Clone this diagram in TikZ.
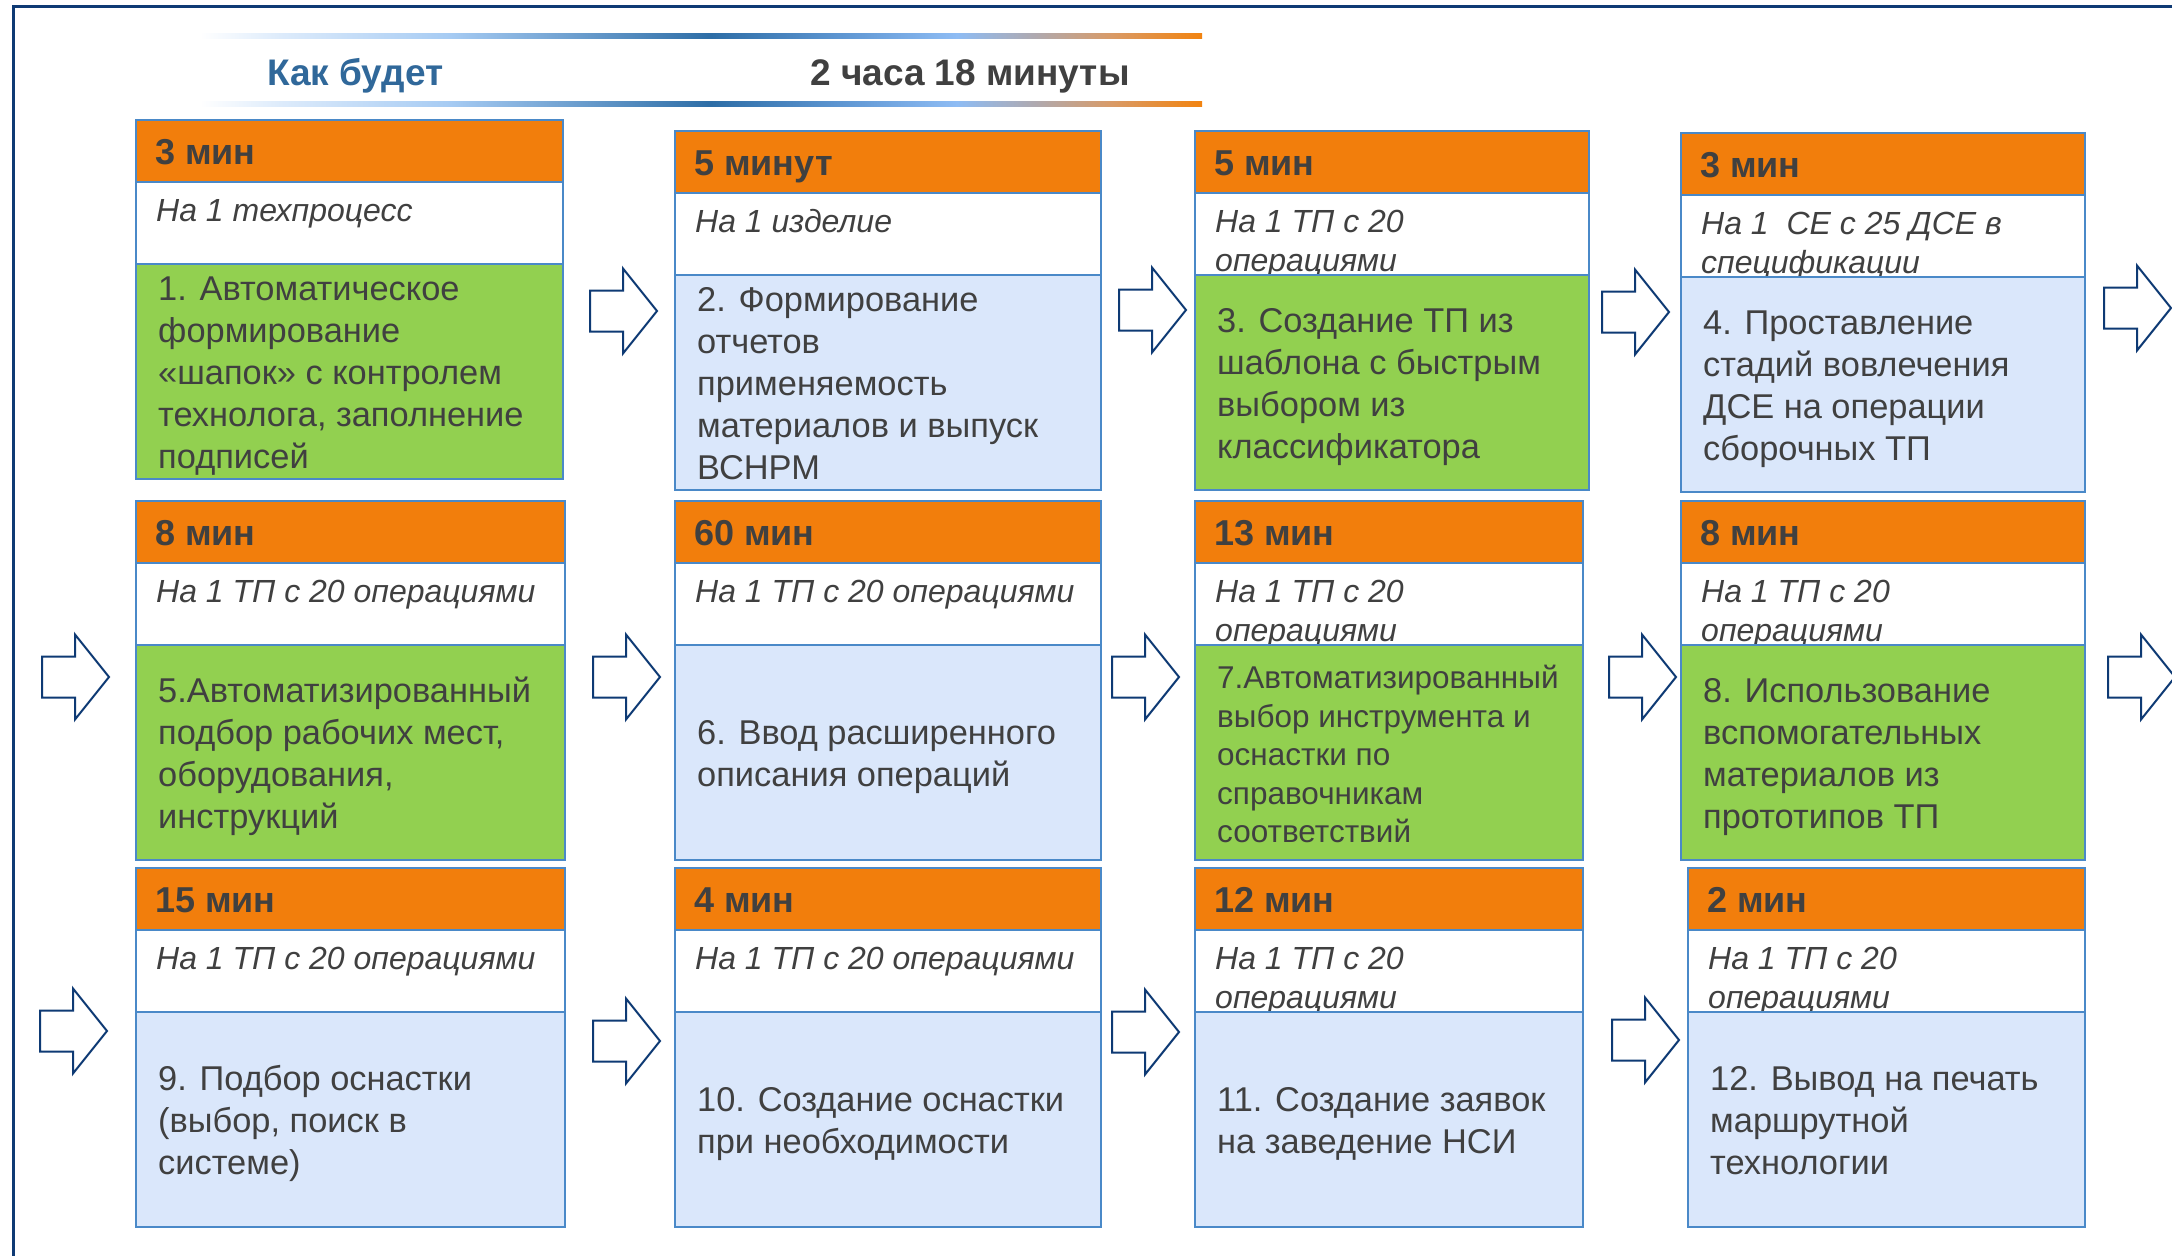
\documentclass[tikz,border=0pt]{standalone}
\usepackage{fontspec}
\setmainfont{Liberation Sans}
\usetikzlibrary{fit}
\definecolor{orng}{HTML}{F27E0C}
\definecolor{grn}{HTML}{92D050}
\definecolor{lblue}{HTML}{DAE7FB}
\definecolor{bord}{HTML}{4A89C8}
\definecolor{txt}{HTML}{404040}
\definecolor{navy}{HTML}{0E3A74}
\definecolor{hblue}{HTML}{30689A}
\definecolor{g1}{HTML}{DDEBFB}
\definecolor{g2}{HTML}{A6CBF3}
\definecolor{g3}{HTML}{2D6DA6}
\definecolor{g4}{HTML}{5E96D2}
\definecolor{g5}{HTML}{8EBCF4}
\definecolor{g6}{HTML}{B0A9AE}
\definecolor{g7}{HTML}{D99A66}
\definecolor{g8}{HTML}{F2830F}
\pgfdeclarehorizontalshading{hdrline}{100bp}{color(0bp)=(white); color(25bp)=(white); color(29bp)=(g1); color(37.5bp)=(g2); color(50.5bp)=(g3); color(57bp)=(g4); color(62.75bp)=(g5); color(66.75bp)=(g6); color(70.5bp)=(g7); color(75bp)=(g8); color(100bp)=(g8)}
\newcommand{\substrut}{\rule{0pt}{28pt}}
\newcommand{\bodystrut}{\rule{0pt}{34pt}}
\newcommand{\bodyend}{\rule[-8pt]{0pt}{8pt}}
\tikzset{
  band/.style={draw=bord, line width=2.5pt, inner sep=0pt, outer sep=0pt},
  hdrtxt/.style={font=\bfseries\fontsize{36}{40}\selectfont, text=txt, inner sep=0pt, anchor=base west},
  subtxt/.style={font=\itshape\fontsize{32}{39}\selectfont, text=txt, inner sep=0pt, anchor=north west, align=left},
  bodytxt/.style={font=\fontsize{34.4}{42}\selectfont, text=txt, inner sep=0pt, anchor=west, align=left},
  smallbody/.style={font=\fontsize{31.5}{38.5}\selectfont},
  barrow/.style={draw=navy, fill=white, line width=2pt, line join=miter},
  titletxt/.style={font=\bfseries\fontsize{37}{40}\selectfont, inner sep=0pt, anchor=base west}
}
% #1 name, #2 left, #3 top, #4 right, #5 header, #6 sub, #7 body, #8 fill, #9 extra body style
\newcommand{\card}[9]{%
  \node[band, fill=orng, fit={(#2,#3) (#4,{#3+62})}] (#1h) {};
  \node[band, fill=white, fit={(#2,{#3+62}) (#4,{#3+144})}] (#1w) {};
  \node[subtxt] (#1s) at ([xshift=20pt,yshift=-11.5pt]#1w.north west) {\substrut #6};
  \node[band, fill=#8, fit={(#2,{#3+144}) (#4,{#3+359})}] (#1b) {};
  \node[bodytxt,#9] (#1t) at ([xshift=22pt]#1b.west) {\bodystrut #7\bodyend};
  \node[hdrtxt] (#1n) at ([xshift=19pt,yshift=-44pt]#1h.north west) {#5};
}
% block arrow: #1 name, #2 left x, #3 centre y
\newcommand{\blockarrow}[3]{%
  \coordinate (#1) at (#2,#3);
  \draw[barrow] (#1) ++(0,-20.5) -- ++(33,0) -- ++(0,-22) -- ++(34,42.5) -- ++(-34,42.5) -- ++(0,-22) -- ++(-33,0) -- cycle;
}
\begin{document}
\begin{tikzpicture}[x=1pt,y=-1pt]
\useasboundingbox (0,0) rectangle (2172,1256);
\fill[white] (0,0) rectangle (2172,1256);
\draw[navy, line width=3pt] (2172,6.5) -- (13.5,6.5) -- (13.5,1256);

\shade[shading=hdrline] (200,33.5) rectangle (1202,38.5);
\shade[shading=hdrline] (200,101.5) rectangle (1202,106.5);
\node[titletxt, text=hblue] (title) at (267,85) {Как будет};
\node[titletxt, text=txt] (total) at (810,85) {2 часа 18 минуты};

% row 1
\card{c1}{136}{120}{563}{3 мин}{На 1 техпроцесс}{1. Автоматическое\\формирование\\«шапок» с контролем\\технолога, заполнение\\подписей}{grn}{}
\card{c2}{675}{131}{1101}{5 минут}{На 1 изделие}{2. Формирование\\отчетов\\применяемость\\материалов и выпуск\\ВСНРМ}{lblue}{}
\card{c3}{1195}{131}{1589}{5 мин}{На 1 ТП с 20\\операциями}{3. Создание ТП из\\шаблона с быстрым\\выбором из\\классификатора}{grn}{}
\card{c4}{1681}{133}{2085}{3 мин}{На 1~~СЕ с 25 ДСЕ в\\спецификации}{4. Проставление\\стадий вовлечения\\ДСЕ на операции\\сборочных ТП}{lblue}{}
% row 2
\card{c5}{136}{501}{565}{8 мин}{На 1 ТП с 20 операциями}{5.Автоматизированный\\подбор рабочих мест,\\оборудования,\\инструкций}{grn}{}
\card{c6}{675}{501}{1101}{60 мин}{На 1 ТП с 20 операциями}{6. Ввод расширенного\\описания операций}{lblue}{}
\card{c7}{1195}{501}{1583}{13 мин}{На 1 ТП с 20\\операциями}{7.Автоматизированный\\выбор инструмента и\\оснастки по\\справочникам\\соответствий}{grn}{smallbody}
\card{c8}{1681}{501}{2085}{8 мин}{На 1 ТП с 20\\операциями}{8. Использование\\вспомогательных\\материалов из\\прототипов ТП}{grn}{}
% row 3
\card{c9}{136}{868}{565}{15 мин}{На 1 ТП с 20 операциями}{9. Подбор оснастки\\(выбор, поиск в\\системе)}{lblue}{}
\card{c10}{675}{868}{1101}{4 мин}{На 1 ТП с 20 операциями}{10. Создание оснастки\\при необходимости}{lblue}{}
\card{c11}{1195}{868}{1583}{12 мин}{На 1 ТП с 20\\операциями}{11. Создание заявок\\на заведение НСИ}{lblue}{}
\card{c12}{1688}{868}{2085}{2 мин}{На 1 ТП с 20\\операциями}{12. Вывод на печать\\маршрутной\\технологии}{lblue}{}

% arrows
\blockarrow{a12}{590}{311}
\blockarrow{a23}{1119}{310}
\blockarrow{a34}{1602}{312}
\blockarrow{a4o}{2104}{308}
\blockarrow{a5i}{42}{677}
\blockarrow{a56}{593}{677}
\blockarrow{a67}{1112}{677}
\blockarrow{a78}{1609}{677}
\blockarrow{a8o}{2108}{677}
\blockarrow{a9i}{40}{1031}
\blockarrow{a910}{593}{1041}
\blockarrow{a1011}{1112}{1032}
\blockarrow{a1112}{1612}{1040}
\end{tikzpicture}
\end{document}
